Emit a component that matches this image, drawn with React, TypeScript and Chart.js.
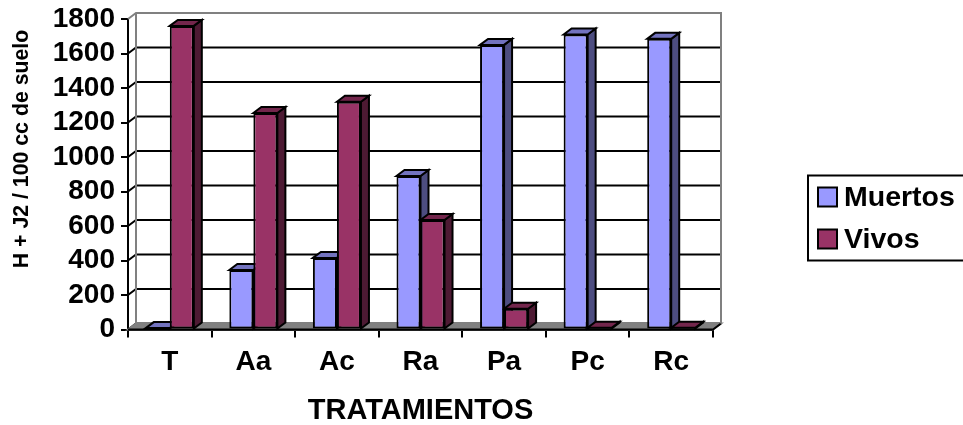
import React, { useEffect, useRef } from "react";
import { Chart, registerables } from "chart.js";

Chart.register(...registerables);

const categories = ["T", "Aa", "Ac", "Ra", "Pa", "Pc", "Rc"];
const muertos = [8, 345, 415, 890, 1650, 1710, 1685];
const vivos = [1760, 1255, 1320, 635, 120, 10, 10];
const yTicks = [0, 200, 400, 600, 800, 1000, 1200, 1400, 1600, 1800];
const yAxisTitle = "H + J2 / 100 cc de suelo";

const FONT = "'Liberation Sans', Arial, sans-serif";
const DEPTH_X = 8;
const DEPTH_Y = 6;
const INK = "#000000";
const WALL = "#808080";
const faceColors = [
  { front: "#9999FF", top: "#7373BF", side: "#4D4D80" },
  { front: "#993366", top: "#73264C", side: "#4D1A33" },
];

function polygon(ctx: CanvasRenderingContext2D, pts: number[][], fill: string | null, stroke: string) {
  ctx.beginPath();
  pts.forEach(([x, y], i) => (i ? ctx.lineTo(x, y) : ctx.moveTo(x, y)));
  ctx.closePath();
  if (fill) {
    ctx.fillStyle = fill;
    ctx.fill();
  }
  ctx.strokeStyle = stroke;
  ctx.stroke();
}

// Back wall, floor and the extruded faces of every bar, painted under the front faces.
const depthPlugin = {
  id: "depth",
  beforeDatasetsDraw(chart: any) {
    const { ctx, chartArea: a, scales } = chart;
    const y = scales.y;
    const bx = DEPTH_X;
    const by = DEPTH_Y;
    ctx.save();
    ctx.lineWidth = 2;
    ctx.lineJoin = "miter";

    yTicks.forEach((v) => {
      const py = y.getPixelForValue(v);
      if (v === 1800) return;
      ctx.strokeStyle = INK;
      ctx.beginPath();
      ctx.moveTo(a.left, py);
      ctx.lineTo(a.left + bx, py - by);
      ctx.lineTo(a.right + bx, py - by);
      ctx.stroke();
    });

    const floorY = y.getPixelForValue(0);
    polygon(
      ctx,
      [
        [a.left, floorY],
        [a.left + bx, floorY - by],
        [a.right + bx, floorY - by],
        [a.right, floorY],
      ],
      WALL,
      WALL
    );
    ctx.strokeStyle = INK;
    ctx.beginPath();
    ctx.moveTo(a.left, floorY);
    ctx.lineTo(a.right, floorY);
    ctx.lineTo(a.right + bx, floorY - by);
    ctx.stroke();

    const topY = y.getPixelForValue(1800);
    ctx.strokeStyle = WALL;
    ctx.beginPath();
    ctx.moveTo(a.left, topY);
    ctx.lineTo(a.left + bx, topY - by);
    ctx.lineTo(a.right + bx, topY - by);
    ctx.lineTo(a.right + bx, floorY - by);
    ctx.moveTo(a.left + bx, topY - by);
    ctx.lineTo(a.left + bx, floorY - by);
    ctx.stroke();

    chart.data.datasets.forEach((_: any, di: number) => {
      const colors = faceColors[di];
      chart.getDatasetMeta(di).data.forEach((bar: any) => {
        const x1 = bar.x - bar.width / 2;
        const x2 = bar.x + bar.width / 2;
        polygon(
          ctx,
          [
            [x2, bar.y],
            [x2 + bx, bar.y - by],
            [x2 + bx, bar.base - by],
            [x2, bar.base],
          ],
          colors.side,
          INK
        );
        polygon(
          ctx,
          [
            [x1, bar.y],
            [x1 + bx, bar.y - by],
            [x2 + bx, bar.y - by],
            [x2, bar.y],
          ],
          colors.top,
          INK
        );
      });
    });
    ctx.restore();
  },
  // Framed key at the right edge of the canvas, plus the vertical axis caption set above centre.
  afterDraw(chart: any) {
    const { ctx } = chart;
    ctx.save();
    ctx.lineWidth = 2;
    ctx.strokeStyle = INK;
    ctx.strokeRect(808, 175.5, 170, 85);
    ctx.font = `bold 28.5px ${FONT}`;
    ctx.textBaseline = "middle";
    ctx.textAlign = "left";
    chart.data.datasets.forEach((ds: any, i: number) => {
      const cy = 197.5 + i * 42;
      ctx.fillStyle = ds.backgroundColor;
      ctx.fillRect(818, cy - 10, 19, 19);
      ctx.strokeRect(818, cy - 10, 19, 19);
      ctx.fillStyle = INK;
      ctx.fillText(ds.label, 844, cy + 1);
    });

    ctx.translate(22, 149);
    ctx.rotate(-Math.PI / 2);
    ctx.font = `bold 21.3px ${FONT}`;
    ctx.textAlign = "center";
    ctx.fillStyle = INK;
    ctx.fillText(yAxisTitle, 0, 0);
    ctx.restore();
  },
};

export default function App() {
  const canvasRef = useRef<HTMLCanvasElement | null>(null);

  useEffect(() => {
    const chart = new Chart(canvasRef.current as HTMLCanvasElement, {
      type: "bar",
      data: {
        labels: categories,
        datasets: [
          {
            label: "Muertos",
            data: muertos,
            backgroundColor: faceColors[0].front,
            borderColor: INK,
            borderWidth: 2,
            borderSkipped: false,
          },
          {
            label: "Vivos",
            data: vivos,
            backgroundColor: faceColors[1].front,
            borderColor: INK,
            borderWidth: 2,
            borderSkipped: false,
          },
        ],
      },
      options: {
        animation: false,
        responsive: false,
        categoryPercentage: 0.575,
        barPercentage: 1,
        layout: { padding: { left: 0, top: 19, right: 250, bottom: 0 } },
        plugins: { legend: { display: false }, tooltip: { enabled: false } },
        scales: {
          x: {
            afterFit: (s: any) => {
              s.height = 95.5;
              s.paddingLeft = 0;
              s.paddingRight = 0;
            },
            grid: { drawOnChartArea: false, drawTicks: true, tickLength: 8, color: INK, lineWidth: 2 },
            border: { display: true, color: INK, width: 2 },
            ticks: { color: INK, padding: 8, maxRotation: 0, font: { family: FONT, weight: "bold", size: 28 } },
            title: {
              display: true,
              text: "TRATAMIENTOS",
              color: INK,
              padding: { top: 0, bottom: -3 },
              font: { family: FONT, weight: "bold", size: 29 },
            },
          },
          y: {
            min: 0,
            max: 1800,
            afterFit: (s: any) => {
              s.width = 128;
              s.paddingTop = 0;
              s.paddingBottom = 0;
            },
            afterBuildTicks: (s: any) => {
              s.ticks = yTicks.map((value) => ({ value }));
            },
            grid: { drawOnChartArea: false, drawTicks: true, tickLength: 7, color: INK, lineWidth: 2 },
            border: { display: true, color: INK, width: 2 },
            ticks: {
              color: INK,
              padding: 6,
              autoSkip: false,
              callback: (v: any) => String(v),
              font: { family: FONT, weight: "bold", size: 28 },
            },
          },
        },
      },
      plugins: [depthPlugin],
    } as any);
    return () => chart.destroy();
  }, []);

  return (
    <canvas
      ref={canvasRef}
      width={963}
      height={425}
      style={{ position: "fixed", left: 0, top: 0, width: 963, height: 425, display: "block" }}
    />
  );
}
